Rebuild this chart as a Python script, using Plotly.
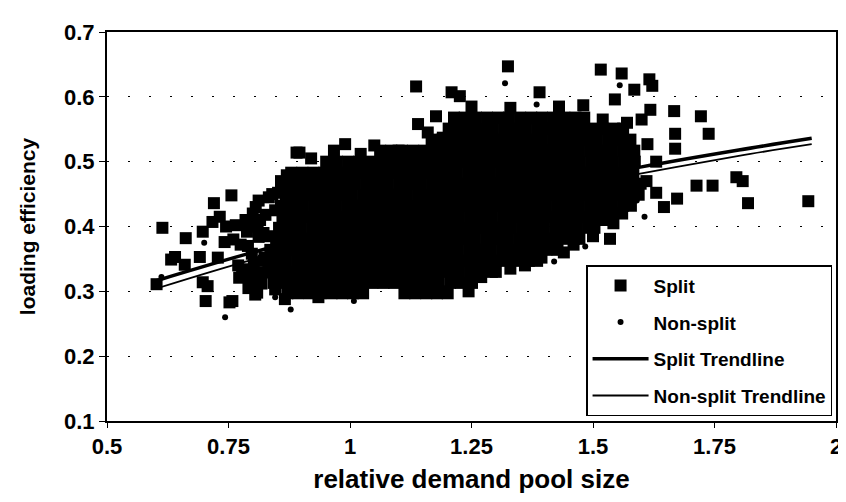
import plotly.graph_objects as go

# ---- Split: scattered squares ----
split_out_x = [0.602, 0.614, 0.632, 0.640, 0.660, 0.662, 0.691, 0.697, 0.697, 0.703, 0.707, 0.717, 0.720, 0.756,
               0.752, 0.758, 0.772, 0.778, 0.793, 0.805, 0.809, 0.819, 0.846, 0.866, 0.793, 0.815, 0.833, 0.846,
               0.874, 0.890, 0.870, 0.896, 0.955, 0.967, 0.990, 1.022, 1.100,
               0.775, 0.798, 0.812, 0.824, 0.788, 0.765, 0.742, 0.728, 0.806, 0.826, 0.818, 0.832, 0.852, 0.858,
               0.800, 0.810, 0.790, 0.802, 0.822, 0.833, 0.785, 0.812, 0.840, 0.770, 0.800, 0.760, 0.745, 0.732,
               0.811, 0.791,
               1.136, 1.140, 1.177, 1.191, 1.209, 1.226, 1.325, 1.390, 1.480, 1.516, 1.545, 1.559, 1.585, 1.616,
               1.622, 1.618, 1.612, 1.667, 1.669, 1.669, 1.722, 1.738, 1.713, 1.746, 1.795, 1.808, 1.819, 1.943,
               1.673, 1.646, 1.630, 1.542, 1.535, 1.600, 1.630, 1.610,
               1.050, 1.160, 1.250, 1.330, 1.430, 0.920, 1.520, 1.570,
               0.935, 1.124, 1.195, 1.244, 1.394, 1.300, 1.460, 1.500,
               1.270, 1.330, 1.360, 1.440, 1.520, 1.560]
split_out_y = [0.311, 0.398, 0.349, 0.353, 0.341, 0.382, 0.353, 0.392, 0.314, 0.285, 0.308, 0.407, 0.436, 0.448,
               0.283, 0.285, 0.321, 0.334, 0.321, 0.295, 0.298, 0.329, 0.303, 0.288, 0.405, 0.410, 0.445, 0.425,
               0.476, 0.514, 0.479, 0.514, 0.494, 0.517, 0.527, 0.512, 0.517,
               0.372, 0.358, 0.384, 0.352, 0.392, 0.402, 0.376, 0.352, 0.430, 0.418, 0.312, 0.336, 0.452, 0.470,
               0.420, 0.400, 0.370, 0.345, 0.390, 0.385, 0.410, 0.440, 0.450, 0.340, 0.330, 0.380, 0.400, 0.415,
               0.315, 0.305,
               0.616, 0.558, 0.570, 0.537, 0.607, 0.601, 0.647, 0.607, 0.587, 0.642, 0.596, 0.636, 0.611, 0.627,
               0.617, 0.580, 0.527, 0.578, 0.543, 0.520, 0.570, 0.543, 0.463, 0.463, 0.476, 0.470, 0.436, 0.439,
               0.443, 0.430, 0.452, 0.405, 0.381, 0.565, 0.500, 0.470,
               0.525, 0.545, 0.585, 0.583, 0.585, 0.505, 0.565, 0.560,
               0.291, 0.311, 0.300, 0.300, 0.352, 0.330, 0.372, 0.385,
               0.322, 0.335, 0.340, 0.360, 0.410, 0.420]

# ---- Split: dense core, estimated row by row ----
split_core_y = [0.297, 0.313, 0.330, 0.347, 0.364, 0.381, 0.398, 0.415, 0.432,
                0.449, 0.466, 0.483, 0.500, 0.517, 0.534, 0.551, 0.568]
split_core_x = [
    [0.871, 0.893, 0.917, 0.939, 0.962, 0.984, 1.006, 1.027, 1.112, 1.134, 1.157, 1.179, 1.201],
    [0.843, 0.866, 0.887, 0.911, 0.933, 0.956, 0.978, 1.001, 1.024, 1.046, 1.069, 1.091, 1.114, 1.137, 1.159,
     1.182, 1.206, 1.228, 1.251],
    [0.838, 0.861, 0.883, 0.906, 0.929, 0.951, 0.974, 0.997, 1.019, 1.042, 1.065, 1.088, 1.110, 1.133, 1.156,
     1.178, 1.201, 1.224, 1.247, 1.269, 1.292],
    [0.823, 0.846, 0.868, 0.891, 0.914, 0.937, 0.959, 0.982, 1.005, 1.027, 1.050, 1.073, 1.096, 1.118, 1.141,
     1.164, 1.186, 1.209, 1.232, 1.255, 1.277, 1.300, 1.323, 1.345, 1.368, 1.385],
    [0.836, 0.859, 0.882, 0.904, 0.927, 0.950, 0.972, 0.995, 1.018, 1.041, 1.063, 1.086, 1.109, 1.131, 1.154,
     1.177, 1.200, 1.222, 1.245, 1.268, 1.290, 1.313, 1.336, 1.359, 1.381, 1.404, 1.427],
    [0.848, 0.871, 0.893, 0.916, 0.939, 0.962, 0.984, 1.007, 1.030, 1.052, 1.075, 1.098, 1.121, 1.143, 1.166,
     1.189, 1.211, 1.234, 1.257, 1.280, 1.302, 1.325, 1.348, 1.370, 1.393, 1.416, 1.439, 1.461, 1.472],
    [0.854, 0.877, 0.899, 0.922, 0.945, 0.968, 0.990, 1.013, 1.036, 1.058, 1.081, 1.104, 1.127, 1.149, 1.172,
     1.195, 1.217, 1.240, 1.263, 1.286, 1.308, 1.331, 1.354, 1.376, 1.399, 1.422, 1.445, 1.467, 1.490, 1.503],
    [0.861, 0.884, 0.906, 0.929, 0.952, 0.974, 0.997, 1.020, 1.043, 1.065, 1.088, 1.111, 1.133, 1.156, 1.179,
     1.202, 1.224, 1.247, 1.270, 1.292, 1.315, 1.338, 1.361, 1.383, 1.406, 1.429, 1.451, 1.474, 1.497, 1.520,
     1.538],
    [0.858, 0.881, 0.903, 0.926, 0.949, 0.971, 0.994, 1.017, 1.040, 1.062, 1.085, 1.108, 1.130, 1.153, 1.176,
     1.199, 1.221, 1.244, 1.267, 1.289, 1.312, 1.335, 1.358, 1.380, 1.403, 1.426, 1.448, 1.471, 1.494, 1.517,
     1.539, 1.562, 1.578],
    [0.868, 0.890, 0.913, 0.936, 0.958, 0.981, 1.004, 1.027, 1.049, 1.072, 1.095, 1.117, 1.140, 1.163, 1.186,
     1.208, 1.231, 1.254, 1.276, 1.299, 1.322, 1.345, 1.367, 1.390, 1.413, 1.435, 1.458, 1.481, 1.504, 1.526,
     1.549, 1.572, 1.594],
    [0.874, 0.896, 0.919, 0.942, 0.965, 0.987, 1.010, 1.033, 1.055, 1.078, 1.101, 1.124, 1.146, 1.169, 1.192,
     1.214, 1.237, 1.260, 1.283, 1.305, 1.328, 1.351, 1.373, 1.396, 1.419, 1.442, 1.464, 1.487, 1.510, 1.532,
     1.555, 1.578, 1.598],
    [0.879, 0.902, 0.925, 0.947, 0.970, 0.993, 1.015, 1.038, 1.061, 1.084, 1.106, 1.129, 1.152, 1.174, 1.197,
     1.220, 1.243, 1.265, 1.288, 1.311, 1.333, 1.356, 1.379, 1.402, 1.424, 1.447, 1.470, 1.492, 1.515, 1.538,
     1.561, 1.583],
    [0.951, 0.973, 0.996, 1.019, 1.042, 1.064, 1.087, 1.110, 1.132, 1.155, 1.178, 1.201, 1.223, 1.246, 1.269,
     1.291, 1.314, 1.337, 1.360, 1.382, 1.405, 1.428, 1.450, 1.473, 1.496, 1.519, 1.541, 1.564, 1.586],
    [1.062, 1.085, 1.107, 1.130, 1.153, 1.176, 1.198, 1.221, 1.244, 1.266, 1.289, 1.312, 1.335, 1.357, 1.380,
     1.403, 1.425, 1.448, 1.471, 1.494, 1.516, 1.539, 1.562, 1.585],
    [1.168, 1.190, 1.213, 1.236, 1.259, 1.281, 1.304, 1.327, 1.349, 1.372, 1.395, 1.418, 1.440, 1.463, 1.486,
     1.508, 1.531, 1.554, 1.577],
    [1.203, 1.226, 1.249, 1.271, 1.294, 1.317, 1.339, 1.362, 1.385, 1.408, 1.430, 1.453, 1.476, 1.498, 1.521,
     1.544, 1.562],
    [1.214, 1.236, 1.259, 1.282, 1.305, 1.327, 1.350, 1.373, 1.395, 1.418, 1.441, 1.464, 1.482],
]

# ---- Non-split dots ----
nonsplit_x = [1.319, 1.384, 1.555, 1.606, 1.484, 1.420, 0.743, 0.878, 0.846, 1.008, 0.612, 0.700, 0.920, 1.590,
              0.950, 1.020, 1.080, 1.150, 1.220, 1.300, 1.350, 1.100, 1.250, 1.420, 1.500, 0.900, 1.050, 1.180,
              1.320, 1.450, 1.280, 1.380, 1.120, 0.980]
nonsplit_y = [0.621, 0.588, 0.618, 0.415, 0.369, 0.346, 0.260, 0.272, 0.291, 0.285, 0.322, 0.375, 0.305, 0.440,
              0.400, 0.360, 0.440, 0.470, 0.500, 0.520, 0.450, 0.330, 0.390, 0.490, 0.530, 0.360, 0.480, 0.410,
              0.370, 0.420, 0.550, 0.560, 0.380, 0.450]

# ---- Trendlines ----
trend_x = [0.60, 0.80, 1.00, 1.20, 1.40, 1.60, 1.80, 1.95]
split_trend_y = [0.316, 0.360, 0.398, 0.432, 0.463, 0.492, 0.518, 0.536]
nonsplit_trend_y = [0.304, 0.349, 0.387, 0.421, 0.453, 0.482, 0.509, 0.527]

x_ticks = [0.5, 0.75, 1.0, 1.25, 1.5, 1.75, 2.0]
x_tick_text = ["0.5", "0.75", "1", "1.25", "1.5", "1.75", "2"]
y_ticks = [0.1, 0.2, 0.3, 0.4, 0.5, 0.6, 0.7]
y_tick_text = ["0.1", "0.2", "0.3", "0.4", "0.5", "0.6", "0.7"]

split_x = list(split_out_x)
split_y = list(split_out_y)
for yy, row in zip(split_core_y, split_core_x):
    split_x.extend(row)
    split_y.extend([yy] * len(row))

FONT = "Arial, 'Liberation Sans', sans-serif"

fig = go.Figure()
fig.add_trace(go.Scatter(x=split_x, y=split_y, mode="markers", name="<b>Split</b>", legendgroup="a",
                         marker=dict(symbol="square", size=12, color="black")))
fig.add_trace(go.Scatter(x=nonsplit_x, y=nonsplit_y, mode="markers", name="<b>Non-split</b>", legendgroup="b",
                         marker=dict(symbol="circle", size=6, color="black")))
fig.add_trace(go.Scatter(x=trend_x, y=split_trend_y, mode="lines", name="<b>Split Trendline</b>", legendgroup="c",
                         line=dict(color="black", width=3.5, shape="spline")))
fig.add_trace(go.Scatter(x=trend_x, y=nonsplit_trend_y, mode="lines", name="<b>Non-split Trendline</b>",
                         legendgroup="d", line=dict(color="black", width=1.8, shape="spline")))

fig.update_layout(
    width=846, height=502,
    margin=dict(l=99, r=15, t=20, b=89),
    paper_bgcolor="white", plot_bgcolor="white",
    font=dict(family=FONT, size=21, color="black"),
    showlegend=True,
    legend=dict(x=0.995, xanchor="right", y=0.012, yanchor="bottom",
                bgcolor="white", bordercolor="black", borderwidth=1.2,
                font=dict(size=19, color="black"), tracegroupgap=9, itemwidth=56),
    xaxis=dict(range=[0.5, 2.0], tickvals=x_ticks, ticktext=["<b>%s</b>" % t for t in x_tick_text],
               showgrid=False, zeroline=False, showline=True, linecolor="black", linewidth=2,
               mirror=True, ticks="outside", ticklen=5, tickcolor="black", tickfont=dict(size=22),
               title=dict(text="<b>relative demand pool size</b>", font=dict(size=26), standoff=11)),
    yaxis=dict(range=[0.1, 0.7], tickvals=y_ticks, ticktext=["<b>%s</b>" % t for t in y_tick_text],
               showgrid=True, gridcolor="black", gridwidth=1, griddash="2px,19px",
               zeroline=False, showline=True, linecolor="black", linewidth=2,
               mirror=True, ticks="outside", ticklen=6, tickcolor="black", tickfont=dict(size=22),
               title=dict(text="<b>loading efficiency</b>", font=dict(size=21), standoff=23)),
)

fig.write_html("out.html")
